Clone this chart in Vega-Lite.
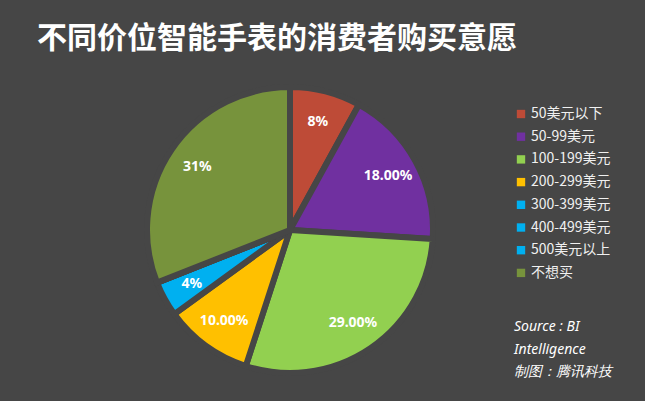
{
  "$schema": "https://vega.github.io/schema/vega-lite/v6.json",
  "width": 580,
  "height": 340,
  "autosize": {"type": "none"},
  "padding": {"left": 0, "top": 60, "right": 65, "bottom": 1},
  "background": "#464646",
  "title": {
    "text": "不同价位智能手表的消费者购买意愿",
    "anchor": "start",
    "frame": "group",
    "dx": 37,
    "offset": 6,
    "fontSize": 30,
    "font": "Noto Sans CJK SC",
    "fontWeight": "bold",
    "color": "#ffffff"
  },
  "config": {"view": {"stroke": null}},
  "data": {
    "values": [
      {"category": "50美元以下", "value": 8, "label": "8%", "order": 1},
      {"category": "50-99美元", "value": 18, "label": "18.00%", "order": 2},
      {"category": "100-199美元", "value": 29, "label": "29.00%", "order": 3},
      {"category": "200-299美元", "value": 10, "label": "10.00%", "order": 4},
      {"category": "300-399美元", "value": 4, "label": "4%", "order": 5},
      {"category": "400-499美元", "value": 0, "label": "", "order": 6},
      {"category": "500美元以上", "value": 0, "label": "", "order": 7},
      {"category": "不想买", "value": 31, "label": "31%", "order": 8}
    ]
  },
  "encoding": {
    "theta": {"field": "value", "type": "quantitative", "stack": true},
    "order": {"field": "order", "type": "quantitative"}
  },
  "layer": [
    {
      "mark": {"type": "arc", "outerRadius": 143, "stroke": "#464646", "strokeWidth": 6},
      "encoding": {
        "color": {
          "field": "category",
          "type": "nominal",
          "sort": ["50美元以下", "50-99美元", "100-199美元", "200-299美元", "300-399美元", "400-499美元", "500美元以上", "不想买"],
          "scale": {
            "domain": ["50美元以下", "50-99美元", "100-199美元", "200-299美元", "300-399美元", "400-499美元", "500美元以上", "不想买"],
            "range": ["#BE4B37", "#7030A0", "#92D050", "#FFC000", "#00B0F0", "#00B0F0", "#00B0F0", "#77933C"]
          },
          "legend": {
            "orient": "none",
            "legendX": 514,
            "legendY": 47,
            "title": ["Source : BI", "Intelligence", "制图：腾讯科技"],
            "titleOrient": "bottom",
            "titleFont": "Noto Sans",
            "titleFontStyle": "italic",
            "titleFontWeight": "normal",
            "titleFontSize": 14,
            "titleColor": "#ffffff",
            "titlePadding": 40,
            "titleLineHeight": 22.5,
            "labelColor": "#f0f0f0",
            "labelFont": "Noto Sans CJK SC",
            "labelFontSize": 14,
            "labelOffset": 3,
            "symbolType": "square",
            "symbolSize": 70,
            "symbolStrokeWidth": 0,
            "rowPadding": 8.7,
            "padding": 0
          }
        }
      }
    },
    {
      "mark": {"type": "text", "radius": 112, "fontSize": 14, "fontWeight": "bold", "font": "Noto Sans"},
      "encoding": {
        "text": {"field": "label", "type": "nominal"},
        "color": {"value": "#ffffff"}
      }
    }
  ]
}
